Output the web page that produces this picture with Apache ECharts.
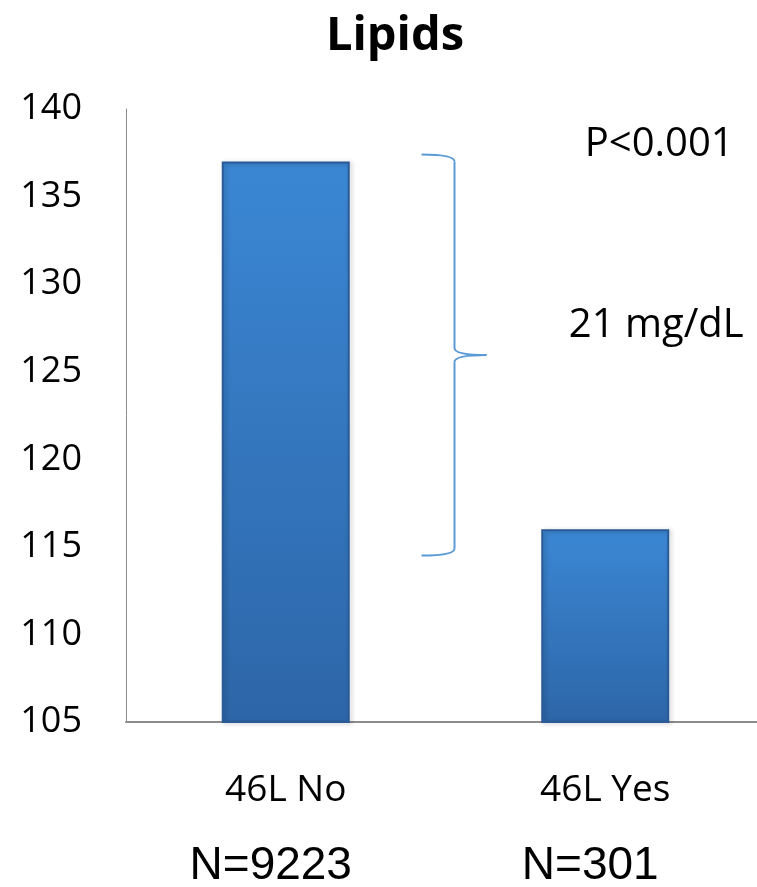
<!DOCTYPE html>
<html>
<head>
<meta charset="utf-8">
<script src="https://cdn.jsdelivr.net/npm/echarts@6/dist/echarts.min.js"></script>
<style>
  html, body { margin: 0; padding: 0; background: #fff; overflow: hidden; }
  #chart { width: 772px; height: 887px; }
</style>
</head>
<body>
<div id="chart"></div>
<script>
// Mean lipid level by 46L status
var categories = ['46L No', '46L Yes'];
var values = [137, 116];
var groupSizes = ['N=9223', 'N=301'];
var yTicks = [105, 110, 115, 120, 125, 130, 135, 140];
// Bracket spanning the gap between the two groups (value units)
var braceRange = [114.5, 137.4];
var pValueText = 'P<0.001';
var diffText = '21 mg/dL';

var chart = echarts.init(document.getElementById('chart'));

var barColor = new echarts.graphic.LinearGradient(0, 0, 0, 1, [
  { offset: 0, color: '#3b87d4' },
  { offset: 1, color: '#2d66a8' }
]);

var option = {
  animation: false,
  backgroundColor: '#ffffff',
  title: {
    text: 'Lipids',
    left: 390,
    top: 8,
    textAlign: 'center',
    textStyle: { fontFamily: 'Open Sans', fontWeight: 'bold', fontSize: 47, color: '#000' }
  },
  grid: { left: 126, top: 109, width: 639, height: 613, containLabel: false },
  xAxis: {
    type: 'category',
    data: categories,
    boundaryGap: true,
    axisLine: { show: true, lineStyle: { color: '#8c8c8c', width: 2 } },
    axisTick: { show: false },
    axisLabel: {
      margin: 48,
      fontFamily: 'Open Sans',
      fontSize: 37,
      lineHeight: 40,
      color: '#000'
    }
  },
  yAxis: {
    type: 'value',
    min: yTicks[0],
    max: yTicks[yTicks.length - 1],
    interval: 5,
    axisLine: { show: true, lineStyle: { color: '#8c8c8c', width: 1 } },
    axisTick: { show: false },
    splitLine: { show: false },
    axisLabel: { margin: 44, fontFamily: 'Open Sans', fontSize: 36, color: '#000' }
  },
  series: [{
    type: 'bar',
    data: values,
    barWidth: 128,
    itemStyle: {
      color: barColor,
      borderColor: '#2a5b97',
      borderWidth: 2,
      shadowColor: 'rgba(0,0,0,0.25)',
      shadowBlur: 4,
      shadowOffsetX: 2,
      shadowOffsetY: 1
    }
  }]
};

chart.setOption(option);

function buildOverlay() {
  var c0 = chart.convertToPixel({ xAxisIndex: 0 }, categories[0]);
  var c1 = chart.convertToPixel({ xAxisIndex: 0 }, categories[1]);
  var mid = (c0 + c1) / 2;
  var yTop = chart.convertToPixel({ yAxisIndex: 0 }, braceRange[1]);
  var yBot = chart.convertToPixel({ yAxisIndex: 0 }, braceRange[0]);
  var yMid = (yTop + yBot) / 2;

  // Curly bracket: ends on the left, point on the right
  var xEnd = mid - 24;
  var xSpine = mid + 9;
  var xTip = mid + 41;
  var r = 7;
  var braceStyle = { fill: null, stroke: '#5b9bd5', lineWidth: 2 };

  function curve(x1, y1, cx, cy, x2, y2) {
    return { type: 'bezierCurve', shape: { x1: x1, y1: y1, x2: x2, y2: y2, cpx1: cx, cpy1: cy }, style: braceStyle };
  }
  function seg(x1, y1, x2, y2) {
    return { type: 'line', shape: { x1: x1, y1: y1, x2: x2, y2: y2 }, style: braceStyle };
  }

  var elements = [
    curve(xEnd, yTop, xSpine, yTop, xSpine, yTop + r),
    seg(xSpine, yTop + r, xSpine, yMid - r),
    curve(xSpine, yMid - r, xSpine, yMid, xTip, yMid),
    curve(xTip, yMid, xSpine, yMid, xSpine, yMid + r),
    seg(xSpine, yMid + r, xSpine, yBot - r),
    curve(xSpine, yBot - r, xSpine, yBot, xEnd, yBot),
    {
      type: 'text',
      x: c1 + 54, y: yTop - 10,
      style: { text: pValueText, fontFamily: 'Open Sans', fontSize: 40, fill: '#000', align: 'center', verticalAlign: 'middle' }
    },
    {
      type: 'text',
      x: c1 + 51, y: yMid - 29,
      style: { text: diffText, fontFamily: 'Open Sans', fontSize: 40, fill: '#000', align: 'center', verticalAlign: 'middle' }
    }
  ];

  [c0, c1].forEach(function (cx, i) {
    elements.push({
      type: 'text',
      x: cx - 15, y: 866,
      style: { text: groupSizes[i], fontFamily: 'Liberation Sans', fontSize: 46, fill: '#000', align: 'center', verticalAlign: 'middle' }
    });
  });

  chart.setOption({ graphic: { elements: elements } });
}

buildOverlay();
</script>
</body>
</html>
